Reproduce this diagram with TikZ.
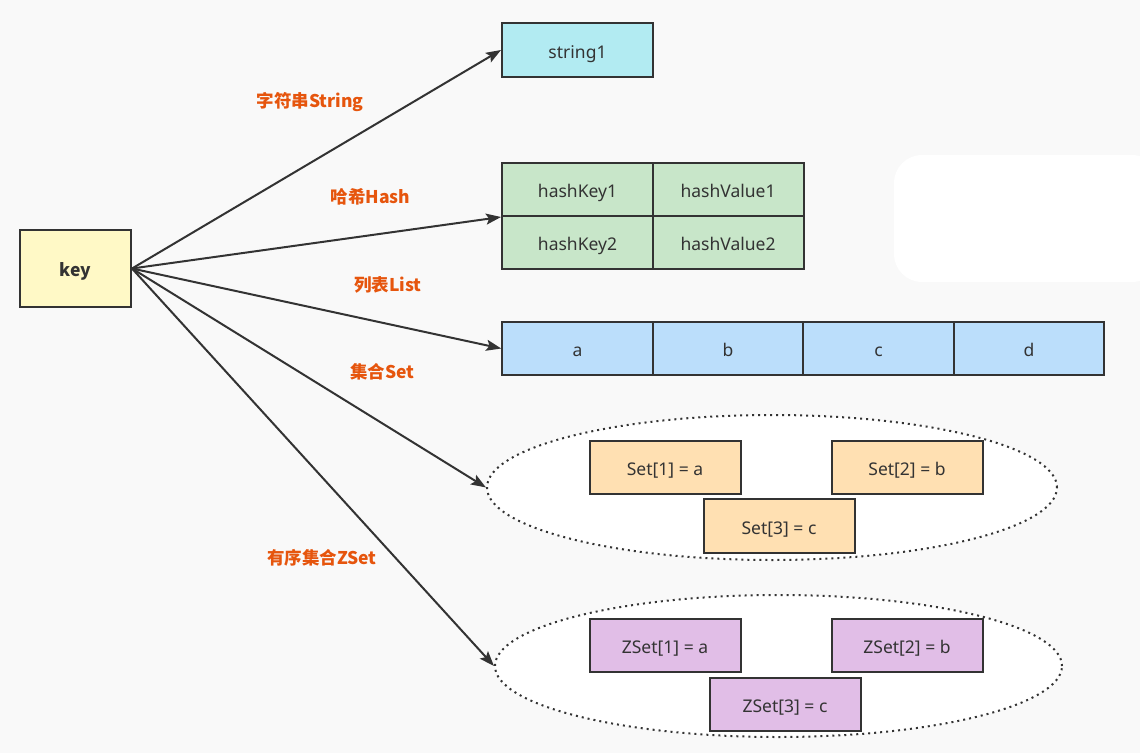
\documentclass[tikz,border=0pt]{standalone}
\usepackage{fontspec}
\setmainfont{Noto Sans}
\newfontfamily\cjkfont{Noto Sans CJK SC}
\usetikzlibrary{arrows.meta,shapes.geometric}
\definecolor{bgc}{HTML}{F9F9F9}
\definecolor{linec}{HTML}{333333}
\definecolor{textc}{HTML}{333333}
\definecolor{labc}{HTML}{E6550D}
\definecolor{keyc}{HTML}{FFF9C6}
\definecolor{strc}{HTML}{B2EBF2}
\definecolor{hashc}{HTML}{C8E6C9}
\definecolor{listc}{HTML}{BBDEFB}
\definecolor{setc}{HTML}{FFE0B2}
\definecolor{zsetc}{HTML}{E1BEE7}
\tikzset{
  box/.style={draw=linec, line width=2pt, inner sep=0pt, text=textc,
    font=\fontsize{17.5}{17.5}\selectfont, text height=16pt, text depth=0pt,
    minimum width=151pt, minimum height=53pt},
  lab/.style={text=labc, font=\cjkfont\bfseries\fontsize{17.5}{17.5}\selectfont, inner sep=0pt},
  ell/.style={ellipse, draw=linec, fill=white, line width=2pt, dash pattern=on 2pt off 4pt, inner sep=0pt},
  conn/.style={draw=linec, line width=2pt, -{Stealth[length=15pt,width=11pt,inset=3pt]}},
}
\begin{document}
\begin{tikzpicture}[x=1pt,y=-1pt]
\useasboundingbox (0,0) rectangle (1140,753);
\fill[bgc] (0,0) rectangle (1140,753);
\fill[white, rounded corners=28pt] (894,155) rectangle (1160,282);
% key
\node[box, fill=keyc, minimum width=111pt, minimum height=77pt, font=\cjkfont\bfseries\fontsize{17.5}{17.5}\selectfont] (key) at (75.5,268.5) {key};
% string
\node[box, fill=strc, minimum height=54pt] (str) at (577.5,50) {string1};
% hash
\node[box, fill=hashc] (hk1) at (577.5,189.5) {hashKey1};
\node[box, fill=hashc] (hv1) at (728,189.5) {hashValue1};
\node[box, fill=hashc] (hk2) at (577.5,242.5) {hashKey2};
\node[box, fill=hashc] (hv2) at (728,242.5) {hashValue2};
% list
\node[box, fill=listc, minimum width=150.5pt] (la) at (577.5,348.5) {a};
\node[box, fill=listc, minimum width=150.5pt] (lb) at (728,348.5) {b};
\node[box, fill=listc, minimum width=150.5pt] (lc) at (878.5,348.5) {c};
\node[box, fill=listc, minimum width=150.5pt] (ld) at (1029,348.5) {d};
% set
\node[ell, minimum width=570pt, minimum height=145pt] (setE) at (772,487.5) {};
\node[box, fill=setc, minimum width=151pt] (s1) at (665,467.5) {Set[1] = a};
\node[box, fill=setc, minimum width=151pt] (s2) at (907,467.5) {Set[2] = b};
\node[box, fill=setc, minimum width=151pt, minimum height=54pt] (s3) at (779,526) {Set[3] = c};
% zset
\node[ell, minimum width=567pt, minimum height=142pt] (zsetE) at (778.5,666) {};
\node[box, fill=zsetc, minimum width=151pt, minimum height=53pt] (z1) at (665,645) {ZSet[1] = a};
\node[box, fill=zsetc, minimum width=151pt, minimum height=53pt] (z2) at (907,645) {ZSet[2] = b};
\node[box, fill=zsetc, minimum width=151pt, minimum height=53pt] (z3) at (785,704) {ZSet[3] = c};
% labels
\node[lab] (l1) at (310,102) {字符串String};
\node[lab] (l2) at (370.5,197) {哈希Hash};
\node[lab] (l3) at (388,285) {列表List};
\node[lab] (l4) at (382.5,372) {集合Set};
\node[lab] (l5) at (322,558) {有序集合ZSet};
% connectors
\draw[conn] (key.east) -- (str.west);
\draw[conn] (key.east) -- (hk1.south west);
\draw[conn] (key.east) -- (la.west);
\draw[conn] (key.east) -- (setE.west);
\draw[conn] (key.east) -- (zsetE.west);
\end{tikzpicture}
\end{document}
